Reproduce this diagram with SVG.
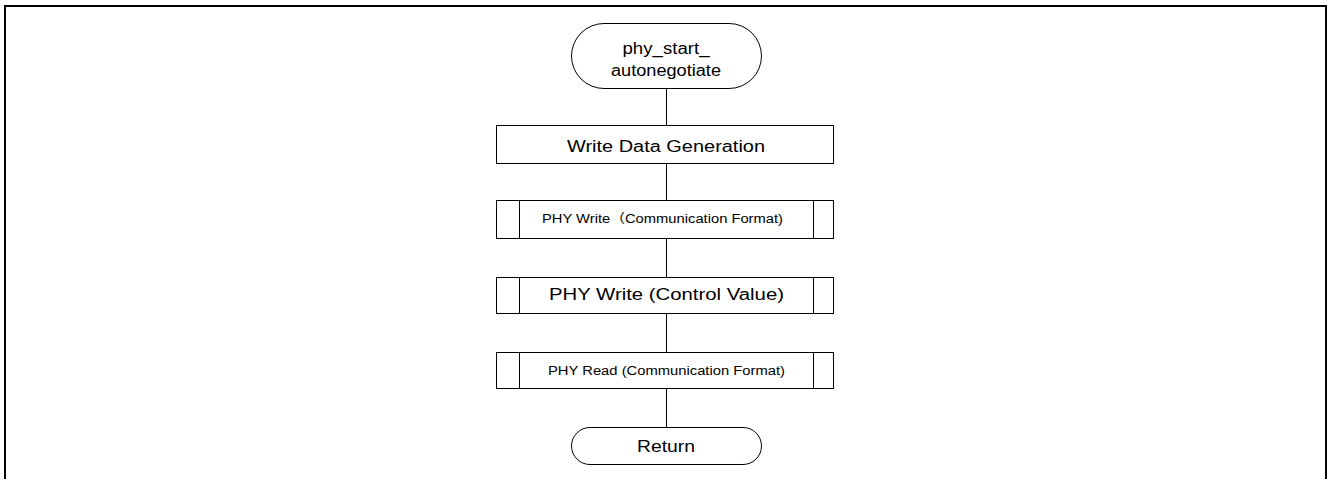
<svg xmlns="http://www.w3.org/2000/svg" width="1328" height="479" viewBox="0 0 1328 479">
<style>
.frame{fill:none;stroke:#000;stroke-width:2}
.shape{fill:#fff;stroke:#000;stroke-width:1}
.conn{stroke:#000;stroke-width:1;fill:none}
text{font-family:"Liberation Sans","Noto Sans CJK JP",sans-serif;fill:#000;text-anchor:middle}
.big{font-size:16px}
.small{font-size:12.5px}
</style>
<rect width="1328" height="479" fill="#fff"/>
<path class="frame" d="M5,479 V6 H1326 V479"/>
<g id="connectors">
<line class="conn" x1="666.5" y1="88" x2="666.5" y2="125"/>
<line class="conn" x1="666.5" y1="163" x2="666.5" y2="200"/>
<line class="conn" x1="666.5" y1="238" x2="666.5" y2="277"/>
<line class="conn" x1="666.5" y1="314" x2="666.5" y2="352"/>
<line class="conn" x1="666.5" y1="389" x2="666.5" y2="427"/>
</g>
<g id="start">
<rect class="shape" x="571.5" y="23.5" width="190" height="65" rx="32.5" ry="32.5"/>
<text class="big" x="666" y="54" textLength="87" lengthAdjust="spacingAndGlyphs">phy_start_</text>
<text class="big" x="666" y="76" textLength="110" lengthAdjust="spacingAndGlyphs">autonegotiate</text>
</g>
<g id="write_data_generation">
<rect class="shape" x="496.5" y="125.5" width="337" height="38"/>
<text class="big" x="666" y="152" textLength="198" lengthAdjust="spacingAndGlyphs">Write Data Generation</text>
</g>
<g id="phy_write_cf">
<rect class="shape" x="496.5" y="200.5" width="337" height="38"/>
<line class="conn" x1="519.5" y1="200.5" x2="519.5" y2="238.5"/>
<line class="conn" x1="813.5" y1="200.5" x2="813.5" y2="238.5"/>
<text class="small" x="662.5" y="223" textLength="241" lengthAdjust="spacingAndGlyphs">PHY Write（Communication Format)</text>
</g>
<g id="phy_write_cv">
<rect class="shape" x="496.5" y="277.5" width="337" height="36"/>
<line class="conn" x1="519.5" y1="277.5" x2="519.5" y2="313.5"/>
<line class="conn" x1="813.5" y1="277.5" x2="813.5" y2="313.5"/>
<text class="big" x="666.5" y="300" textLength="235" lengthAdjust="spacingAndGlyphs">PHY Write (Control Value)</text>
</g>
<g id="phy_read_cf">
<rect class="shape" x="496.5" y="352.5" width="337" height="36"/>
<line class="conn" x1="519.5" y1="352.5" x2="519.5" y2="388.5"/>
<line class="conn" x1="813.5" y1="352.5" x2="813.5" y2="388.5"/>
<text class="small" x="666.5" y="375" textLength="237" lengthAdjust="spacingAndGlyphs">PHY Read (Communication Format)</text>
</g>
<g id="return">
<rect class="shape" x="571.5" y="427.5" width="190" height="37" rx="18.5" ry="18.5"/>
<text class="big" x="666" y="452" textLength="58" lengthAdjust="spacingAndGlyphs">Return</text>
</g>
</svg>
